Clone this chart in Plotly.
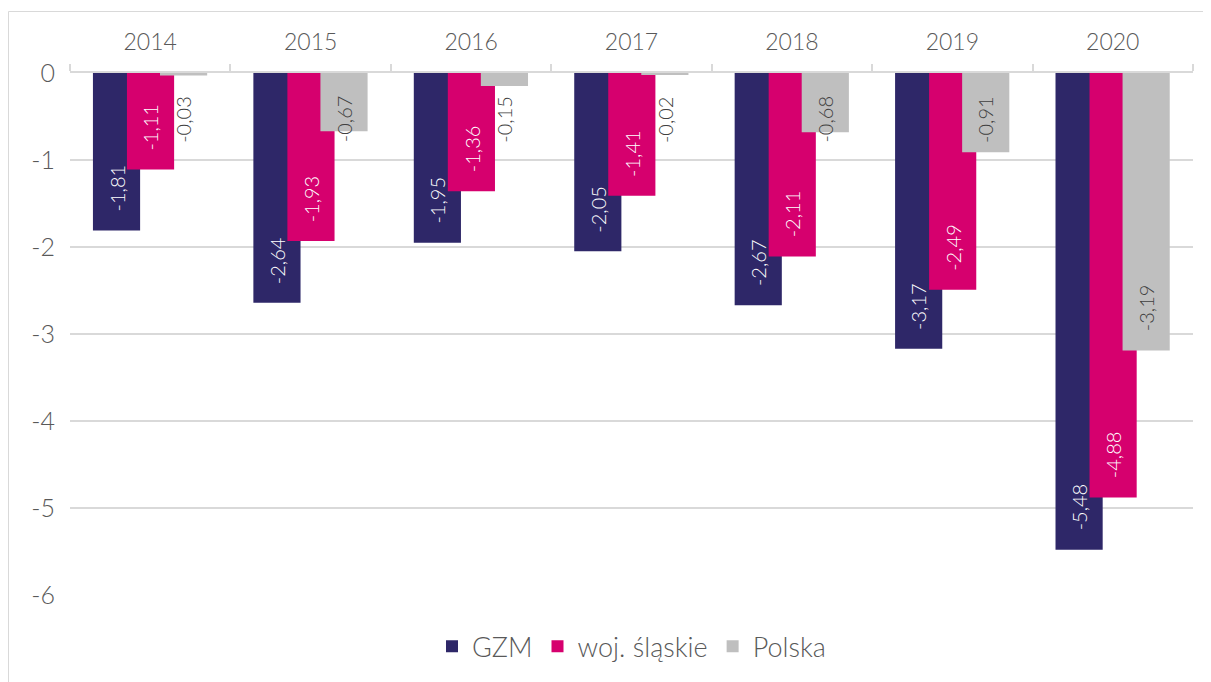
import plotly.graph_objects as go

years = ["2014", "2015", "2016", "2017", "2018", "2019", "2020"]
gzm = [-1.81, -2.64, -1.95, -2.05, -2.67, -3.17, -5.48]
slaskie = [-1.11, -1.93, -1.36, -1.41, -2.11, -2.49, -4.88]
polska = [-0.03, -0.67, -0.15, -0.02, -0.68, -0.91, -3.19]
series_names = ["GZM", "woj. śląskie", "Polska"]
y_ticks = [0, -1, -2, -3, -4, -5, -6]

colors = ["#2E2768", "#D6006E", "#BFBFBF"]
text_colors = ["#FFFFFF", "#FFFFFF", "#404040"]
offsets = [-0.357, -0.145, 0.061]
BAR_W = 0.294
FONT = "Lato, 'Noto Sans', sans-serif"
LABEL_GAP_PX = 17
MIN_LABEL_DEPTH = 1.02

# page geometry (browser body has an 8px margin)
PAGE_OFF = 8
PLOT_L, PLOT_R, PLOT_T, PLOT_B = 70, 1193, 73, 595
W, H = 1211 - PAGE_OFF, 682 - PAGE_OFF

xs = list(range(len(years)))
fig = go.Figure()
annotations = []
for name, vals, col, tcol, off in zip(series_names, [gzm, slaskie, polska], colors, text_colors, offsets):
    fig.add_trace(go.Bar(
        x=xs, y=vals, name=name,
        marker=dict(color=col, line=dict(width=0)),
        width=[BAR_W] * len(xs), offset=[off] * len(xs),
        hoverinfo="y",
    ))
    for xi, v in zip(xs, vals):
        annotations.append(dict(
            x=xi + off + BAR_W / 2, y=min(v, -MIN_LABEL_DEPTH),
            xref="x", yref="y",
            text=f"{v:.2f}".replace(".", ","),
            showarrow=False, textangle=-90,
            xanchor="center", yanchor="bottom", yshift=LABEL_GAP_PX,
            font=dict(family=FONT, size=20, color=tcol, weight=300),
        ))

pw = PLOT_R - PLOT_L
ph = PLOT_B - PLOT_T
fig.update_layout(
    barmode="overlay",
    width=W, height=H,
    margin=dict(l=PLOT_L - PAGE_OFF, r=W - (PLOT_R - PAGE_OFF), t=PLOT_T - PAGE_OFF,
                b=H - (PLOT_B - PAGE_OFF), autoexpand=False),
    paper_bgcolor="white", plot_bgcolor="white",
    font=dict(family=FONT, color="#595959", size=23, weight=300),
    annotations=annotations,
    showlegend=True,
    legend=dict(orientation="h", x=0.5, xanchor="center", y=-0.052, yanchor="top",
                font=dict(size=27, color="#595959", weight=300), traceorder="normal"),
    shapes=[dict(type="rect", xref="paper", yref="paper",
                 x0=(8.5 - PLOT_L) / pw, x1=1.2, y0=-0.3, y1=(PLOT_B - 11.5) / ph,
                 line=dict(color="#D9D9D9", width=1), fillcolor="rgba(0,0,0,0)", layer="below")],
)
fig.update_xaxes(
    side="top", range=[-0.5, len(years) - 0.5],
    tickvals=xs, ticktext=years, ticks="", showgrid=False,
    showline=True, linecolor="#D9D9D9", linewidth=1.5,
    tickfont=dict(size=23, color="#595959", weight=300), ticklabelstandoff=12,
    minor=dict(tickvals=[i - 0.5 for i in range(len(years) + 1)], ticks="outside",
               ticklen=7, tickcolor="#D9D9D9", tickwidth=1.5, showgrid=False),
    zeroline=False,
)
fig.update_yaxes(
    range=[-6, 0], tickvals=y_ticks, ticktext=[str(t) for t in y_ticks],
    showgrid=True, gridcolor="#D9D9D9", gridwidth=1.5, zeroline=False,
    showline=False, ticks="", tickfont=dict(size=25, color="#595959", weight=300),
    ticklabelstandoff=14,
)
fig.write_html("out.html")
